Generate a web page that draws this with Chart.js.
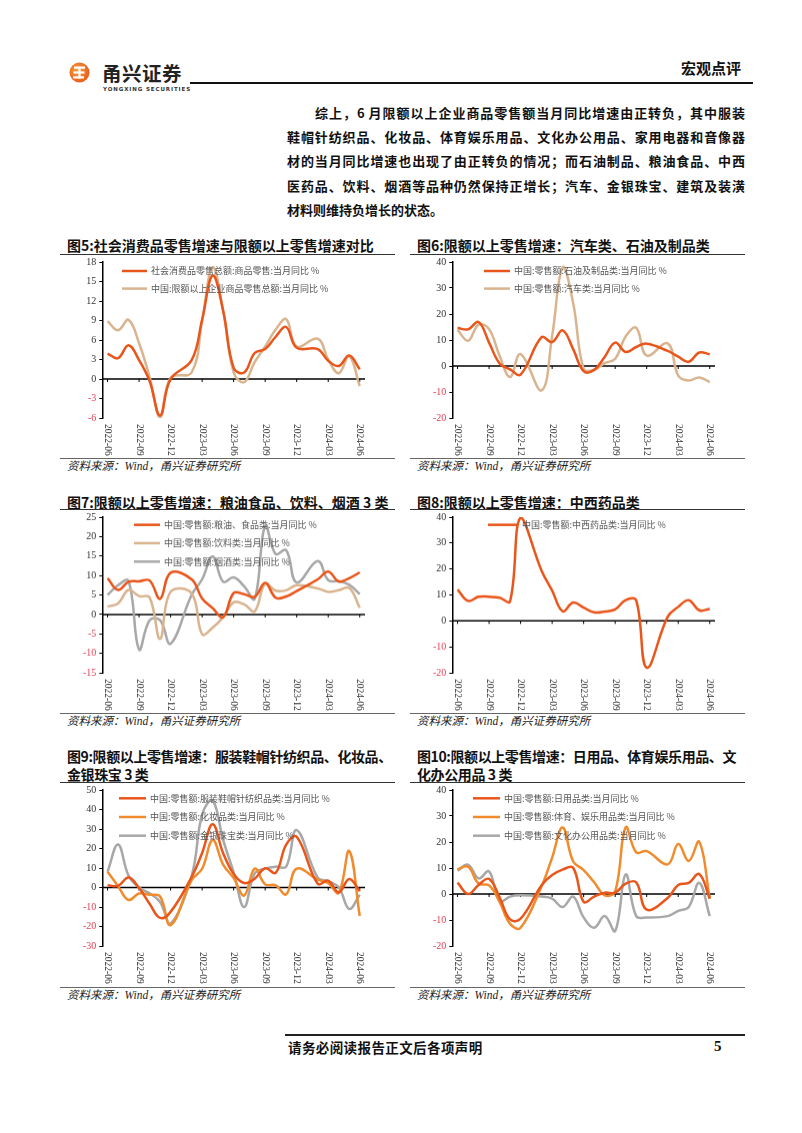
<!DOCTYPE html>
<html>
<head>
<meta charset="utf-8">
<script src="https://cdn.jsdelivr.net/npm/chart.js@4.4.1/dist/chart.umd.min.js"></script>
<style>
  html, body { margin: 0; padding: 0; background: #fff; }
  body { width: 802px; height: 1133px; position: relative; overflow: hidden; font-family: "Noto Sans CJK SC", sans-serif; color: #111; }
  .abs { position: absolute; }
  .title { position: absolute; font-size: 14px; font-weight: bold; line-height: 18px; white-space: nowrap; color: #111; }
  .rule { position: absolute; height: 0; border-top: 1px solid #333; }
  .src { position: absolute; font-size: 11.5px; font-style: italic; line-height: 16px; color: #222; white-space: nowrap; }
  .src i { font-family: "Liberation Serif", serif; }
  .para div { font-size: 13px; font-weight: bold; line-height: 24.2px; text-align: justify; text-align-last: justify; white-space: nowrap; }
  .para div.last { text-align-last: left; }
  canvas { position: absolute; }
</style>
</head>
<body>

<!-- header -->
<svg class="abs" style="left:69px;top:62px" width="21" height="21" viewBox="0 0 21 21">
  <defs>
    <radialGradient id="lg" cx="40%" cy="40%" r="65%">
      <stop offset="0" stop-color="#f9a13a"/>
      <stop offset="1" stop-color="#e8581c"/>
    </radialGradient>
  </defs>
  <circle cx="10.5" cy="10.5" r="10" fill="url(#lg)"/>
  <rect x="5" y="4.5" width="11" height="2.2" fill="#fff"/>
  <rect x="4.5" y="9.4" width="11" height="2.2" fill="#fff"/>
  <rect x="4" y="14.3" width="11" height="2.2" fill="#fff"/>
  <rect x="9.4" y="4.5" width="2.2" height="12" fill="#fff"/>
</svg>
<div class="abs" style="left:102px;top:61px;font-size:19.5px;font-weight:bold;line-height:24px;letter-spacing:0.5px;color:#222">甬兴证券</div>
<div class="abs" style="left:103px;top:86px;font-size:5.5px;font-weight:bold;line-height:7px;letter-spacing:0.9px;color:#333;font-family:'DejaVu Sans',sans-serif">YONGXING SECURITIES</div>
<div class="abs" style="left:190px;top:82px;width:563px;height:2px;background:#111"></div>
<div class="abs" style="left:681px;top:58px;font-size:15px;font-weight:bold;line-height:20px;color:#111">宏观点评</div>

<!-- paragraph -->
<div class="abs para" style="left:287px;top:101px;width:458px">
  <div style="padding-left:28px">综上，6 月限额以上企业商品零售额当月同比增速由正转负，其中服装</div>
  <div>鞋帽针纺织品、化妆品、体育娱乐用品、文化办公用品、家用电器和音像器</div>
  <div>材的当月同比增速也出现了由正转负的情况；而石油制品、粮油食品、中西</div>
  <div>医药品、饮料、烟酒等品种仍然保持正增长；汽车、金银珠宝、建筑及装潢</div>
  <div class="last">材料则维持负增长的状态。</div>
</div>

<!-- panel titles and rules -->
<div class="title" style="left:67px;top:236px">图5:社会消费品零售增速与限额以上零售增速对比</div>
<div class="title" style="left:417px;top:236px">图6:限额以上零售增速：汽车类、石油及制品类</div>
<div class="rule" style="left:60px;top:254px;width:335px"></div>
<div class="rule" style="left:410px;top:254px;width:335px"></div>
<div class="rule" style="left:60px;top:458px;width:335px;border-color:#666"></div>
<div class="rule" style="left:410px;top:458px;width:335px;border-color:#666"></div>
<div class="src" style="left:67px;top:457px">资料来源：<i>Wind</i>，甬兴证券研究所</div>
<div class="src" style="left:417px;top:457px">资料来源：<i>Wind</i>，甬兴证券研究所</div>

<div class="title" style="left:67px;top:493px">图7:限额以上零售增速：粮油食品、饮料、烟酒 3 类</div>
<div class="title" style="left:417px;top:493px">图8:限额以上零售增速：中西药品类</div>
<div class="rule" style="left:60px;top:509px;width:335px"></div>
<div class="rule" style="left:410px;top:509px;width:335px"></div>
<div class="rule" style="left:60px;top:713px;width:335px;border-color:#666"></div>
<div class="rule" style="left:410px;top:713px;width:335px;border-color:#666"></div>
<div class="src" style="left:67px;top:712px">资料来源：<i>Wind</i>，甬兴证券研究所</div>
<div class="src" style="left:417px;top:712px">资料来源：<i>Wind</i>，甬兴证券研究所</div>

<div class="title" style="left:67px;top:747px;letter-spacing:-0.4px">图9:限额以上零售增速：服装鞋帽针纺织品、化妆品、<br>金银珠宝 3 类</div>
<div class="title" style="left:417px;top:747px;letter-spacing:-0.4px">图10:限额以上零售增速：日用品、体育娱乐用品、文<br>化办公用品 3 类</div>
<div class="rule" style="left:60px;top:782px;width:335px"></div>
<div class="rule" style="left:410px;top:782px;width:335px"></div>
<div class="rule" style="left:60px;top:987px;width:335px;border-color:#666"></div>
<div class="rule" style="left:410px;top:987px;width:335px;border-color:#666"></div>
<div class="src" style="left:67px;top:986px">资料来源：<i>Wind</i>，甬兴证券研究所</div>
<div class="src" style="left:417px;top:986px">资料来源：<i>Wind</i>，甬兴证券研究所</div>

<!-- footer -->
<div class="abs" style="left:285px;top:1034px;width:460px;height:1.5px;background:#222"></div>
<div class="abs" style="left:288px;top:1038px;font-size:13.5px;font-weight:bold;line-height:18px;letter-spacing:0.4px">请务必阅读报告正文后各项声明</div>
<div class="abs" style="left:714px;top:1037px;font-size:15px;font-weight:bold;line-height:18px;font-family:'Liberation Serif',serif">5</div>

<canvas id="c5"></canvas>
<canvas id="c6"></canvas>
<canvas id="c7"></canvas>
<canvas id="c8"></canvas>
<canvas id="c9"></canvas>
<canvas id="c10"></canvas>

<script>
// months on the x axis (Wind reports Jan+Feb together, so January is empty)
const months = ['2022-06','2022-07','2022-08','2022-09','2022-10','2022-11','2022-12',
  '2023-01','2023-02','2023-03','2023-04','2023-05','2023-06','2023-07','2023-08','2023-09','2023-10','2023-11','2023-12',
  '2024-01','2024-02','2024-03','2024-04','2024-05','2024-06'];
const tickLabels = ['2022-06','2022-09','2022-12','2023-03','2023-06','2023-09','2023-12','2024-03','2024-06'];

// 图5
const retailGoods      = [3.9, 3.2, 5.2, 2.9, -0.3, -5.6, 0.0, null, 2.9, 9.1, 15.9, 10.5, 1.7, 1.0, 4.0, 4.6, 6.5, 8.0, 4.8, null, 4.6, 2.8, 2.0, 3.6, 1.5];
const retailAboveLimit = [8.9, 7.5, 9.1, 5.5, 0.3, -5.9, 0.2, null, 1.0, 9.0, 17.2, 10.5, 1.0, -0.5, 2.6, 5.0, 7.6, 9.2, 5.0, null, 6.2, 3.0, 0.9, 3.5, -1.1];
// 图6
const petroleum = [14.6, 14.1, 16.9, 9.0, 1.0, -1.3, -3.3, null, 11.1, 9.2, 13.7, 6.5, -2.0, -1.5, 3.5, 9.0, 5.4, 7.3, 8.6, null, 5.8, 3.6, 1.6, 5.2, 4.5];
const autos     = [13.9, 9.7, 15.9, 14.2, 3.9, -4.2, 4.6, null, -9.4, 11.5, 38.0, 24.2, -1.1, -1.5, 1.1, 2.8, 11.4, 14.7, 4.0, null, 8.7, -3.7, -5.6, -4.4, -6.2];
// 图7
const grainFood     = [9.3, 6.3, 8.4, 8.5, 8.7, 4.0, 10.7, null, 9.0, 4.1, 1.6, -0.7, 5.5, 5.2, 4.5, 8.1, 4.3, 4.6, 6.0, null, 9.0, 11.0, 8.5, 9.3, 10.8];
const beverages     = [2.0, 2.8, 6.3, 4.7, 4.4, -6.3, 5.8, null, 5.4, -5.1, -3.4, -0.7, 3.1, 2.6, 0.8, 7.9, 6.1, 6.2, 7.5, null, 6.7, 5.8, 6.2, 6.8, 1.7];
const tobaccoLiquor = [5.0, 7.5, 8.6, -9.0, -1.5, -1.5, -7.5, null, 5.0, 9.0, 14.9, 8.4, 9.5, 7.2, 4.0, 22.8, 15.5, 16.5, 8.2, null, 13.7, 8.8, 8.5, 7.6, 5.2];
// 图8
const medicine = [12.1, 7.7, 9.3, 9.3, 8.9, 7.6, 39.8, null, 19.3, 11.7, 3.7, 7.1, 5.1, 3.3, 3.6, 4.4, 8.0, 7.9, -18.0, null, 1.6, 5.4, 8.0, 4.1, 4.6];
// 图9
const apparel   = [1.2, 0.8, 5.1, -0.3, -8.3, -15.6, -12.5, null, 5.4, 17.7, 32.4, 17.6, 6.9, 2.3, 4.5, 9.9, 7.5, 22.0, 26.0, null, 1.9, 3.5, -2.5, 4.4, -1.9];
const cosmetics = [8.1, 0.7, -6.4, -3.1, -3.7, -4.6, -19.3, null, 3.8, 9.6, 24.3, 11.7, 4.8, -4.1, 9.7, 1.6, 1.1, -3.5, 9.7, null, 4.0, 2.2, -2.7, 18.7, -14.6];
const jewelry   = [8.1, 22.1, 6.1, 0.0, -3.0, -7.4, -18.4, null, 5.9, 37.4, 44.7, 24.4, 7.8, -10.0, 7.2, 9.7, 10.7, 10.7, 29.4, null, 5.0, 3.2, 0.1, -11.0, -3.7];
// 图10
const dailyUse       = [4.4, 0.0, 3.5, 5.8, -1.3, -9.8, -9.5, null, 3.4, 7.3, 9.4, 10.1, -3.0, -1.0, 0.5, 0.5, 4.0, 4.5, -6.0, null, -1.5, 3.5, 4.3, 7.7, -1.8];
const sportsEnt      = [9.5, 10.5, 4.0, 3.3, -3.0, -11.5, -13.0, null, 3.0, 14.0, 25.6, 12.5, 9.2, 4.5, -0.5, 1.0, 25.6, 16.0, 16.5, null, 11.4, 19.2, 12.7, 20.1, -1.7];
const officeSupplies = [9.0, 11.3, 6.0, 8.7, -2.8, -1.0, -0.5, null, -1.0, -1.8, -5.0, -1.0, -9.0, -13.0, -8.5, -14.2, 7.5, -8.5, -9.0, null, -8.5, -6.5, -5.0, 4.3, -8.5];

const RED = '#E9561C', TAN = '#D9B48F', ORANGE = '#F08B2E', GRAY = '#A8A8A8';
const NEG = '#E23D52';

// zero line, x ticks, rotated month labels and the inline legend
const decor = {
  id: 'decor',
  beforeDatasetsDraw(chart) {
    const {ctx, chartArea: a, scales: {x, y}} = chart;
    const y0 = y.getPixelForValue(0);
    ctx.save();
    ctx.strokeStyle = '#000';
    ctx.lineWidth = 1.5;
    ctx.beginPath(); ctx.moveTo(a.left, y0); ctx.lineTo(a.right, y0); ctx.stroke();
    ctx.lineWidth = 1;
    ctx.font = '9.5px "Liberation Serif"';
    ctx.fillStyle = '#333';
    ctx.textAlign = 'left';
    ctx.textBaseline = 'middle';
    months.forEach((m, i) => {
      if (!tickLabels.includes(m)) return;
      const px = x.getPixelForValue(i);
      ctx.beginPath(); ctx.moveTo(px, y0); ctx.lineTo(px, y0 + 3); ctx.stroke();
      ctx.save();
      ctx.translate(px, a.bottom + 6);
      ctx.rotate(Math.PI / 2);
      ctx.fillText(m, 0, 0);
      ctx.restore();
    });
    ctx.restore();
  },
  afterDatasetsDraw(chart, args, opts) {
    const ctx = chart.ctx;
    ctx.save();
    ctx.font = '9px "Noto Sans CJK SC"';
    ctx.textBaseline = 'middle';
    ctx.textAlign = 'left';
    chart.data.datasets.forEach((ds, i) => {
      const ly = opts.y + i * opts.gap;
      ctx.strokeStyle = ds.borderColor;
      ctx.lineWidth = 2.5;
      ctx.beginPath(); ctx.moveTo(opts.x, ly); ctx.lineTo(opts.x + opts.len, ly); ctx.stroke();
      ctx.fillStyle = '#555';
      ctx.fillText(ds.label, opts.x + opts.len + 4, ly);
    });
    ctx.restore();
  }
};

// panel: page position of the plot box; legend: page position of first legend row
function drawChart(id, panelX, box, yMin, yMax, step, legend, series) {
  const canvas = document.getElementById(id);
  const top = box.top - 10;
  const w = box.right - panelX + 30;
  const h = box.bottom - top + 40;
  canvas.width = w; canvas.height = h;
  canvas.style.left = panelX + 'px';
  canvas.style.top = top + 'px';
  canvas.style.width = w + 'px';
  canvas.style.height = h + 'px';
  return new Chart(canvas, {
    type: 'line',
    data: {
      labels: months,
      datasets: series.map(s => ({
        label: s.label, data: s.data, borderColor: s.color, borderWidth: 2.5,
        pointRadius: 0, tension: 0.4, spanGaps: true, fill: false
      }))
    },
    options: {
      responsive: false,
      animation: false,
      devicePixelRatio: 1,
      layout: {padding: {top: 10, right: 30, left: 0, bottom: 0}},
      plugins: {
        legend: {display: false},
        tooltip: {enabled: false},
        decor: {x: legend.x - panelX, y: legend.y - top, gap: legend.gap, len: legend.len}
      },
      scales: {
        x: {
          offset: true,
          grid: {display: false},
          border: {display: false},
          ticks: {display: false},
          afterFit: s => { s.height = 40; }
        },
        y: {
          min: yMin, max: yMax,
          ticks: {
            stepSize: step, padding: 3,
            color: c => c.tick.value < 0 ? NEG : '#333',
            font: {family: 'Liberation Serif', size: 10}
          },
          grid: {drawOnChartArea: false, tickLength: 3, color: '#000'},
          border: {color: '#000', width: 1.5},
          afterFit: s => { s.width = box.left - panelX; }
        }
      }
    },
    plugins: [decor]
  });
}

drawChart('c5', 60, {left: 102.3, right: 365, top: 261.7, bottom: 417.7}, -6, 18, 3,
  {x: 122, y: 270.7, gap: 17.6, len: 25},
  [{label: '社会消费品零售总额:商品零售:当月同比 %', data: retailGoods, color: RED},
   {label: '中国:限额以上企业商品零售总额:当月同比 %', data: retailAboveLimit, color: TAN}]);

drawChart('c6', 410, {left: 452.3, right: 715, top: 261.7, bottom: 417.7}, -20, 40, 10,
  {x: 484, y: 270.7, gap: 17.6, len: 26},
  [{label: '中国:零售额:石油及制品类:当月同比 %', data: petroleum, color: RED},
   {label: '中国:零售额:汽车类:当月同比 %', data: autos, color: TAN}]);

drawChart('c7', 60, {left: 102.3, right: 365, top: 517.3, bottom: 672.7}, -15, 25, 5,
  {x: 134, y: 525, gap: 18.3, len: 26},
  [{label: '中国:零售额:粮油、食品类:当月同比 %', data: grainFood, color: RED},
   {label: '中国:零售额:饮料类:当月同比 %', data: beverages, color: TAN},
   {label: '中国:零售额:烟酒类:当月同比 %', data: tobaccoLiquor, color: GRAY}]);

drawChart('c8', 410, {left: 452.3, right: 715, top: 517.3, bottom: 672.7}, -20, 40, 10,
  {x: 488, y: 525, gap: 18.3, len: 30},
  [{label: '中国:零售额:中西药品类:当月同比 %', data: medicine, color: RED}]);

drawChart('c9', 60, {left: 102.3, right: 365, top: 790, bottom: 946}, -30, 50, 10,
  {x: 119, y: 798.3, gap: 18.7, len: 27},
  [{label: '中国:零售额:服装鞋帽针纺织品类:当月同比 %', data: apparel, color: RED},
   {label: '中国:零售额:化妆品类:当月同比 %', data: cosmetics, color: ORANGE},
   {label: '中国:零售额:金银珠宝类:当月同比 %', data: jewelry, color: GRAY}]);

drawChart('c10', 410, {left: 452.3, right: 715, top: 790, bottom: 946}, -20, 40, 10,
  {x: 473, y: 798.3, gap: 18.7, len: 27},
  [{label: '中国:零售额:日用品类:当月同比 %', data: dailyUse, color: RED},
   {label: '中国:零售额:体育、娱乐用品类:当月同比 %', data: sportsEnt, color: ORANGE},
   {label: '中国:零售额:文化办公用品类:当月同比 %', data: officeSupplies, color: GRAY}]);
</script>
</body>
</html>
